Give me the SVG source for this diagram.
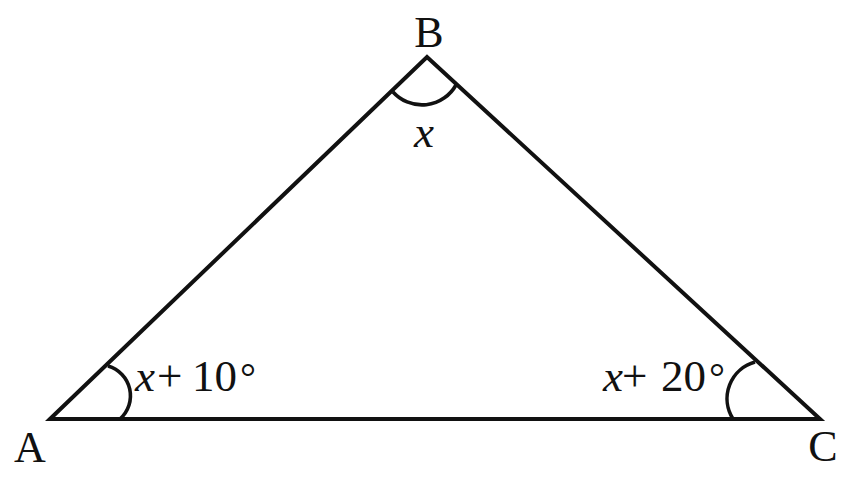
<svg xmlns="http://www.w3.org/2000/svg" width="850" height="482" viewBox="0 0 850 482">
<style>
.edge{fill:none;stroke:#111;stroke-width:4;stroke-linejoin:miter;stroke-miterlimit:10}
.arc{fill:none;stroke:#111;stroke-width:3.6}
text{fill:#111}
.lbl{font-size:44px}
.ang{font-size:45px}
.it{font-style:italic}
.deg{font-size:40px}
</style>
<rect width="850" height="482" fill="#fff"/>
<g id="connectors">
<polygon class="edge" points="50,419 427,57 820,419"/>
</g>
<g id="node-A" font-family="'Liberation Serif', 'Times New Roman', serif">
<path class="arc" d="M108,366 A31,31 0 0 1 120,419"/>
<text class="lbl" x="30" y="462" text-anchor="middle">A</text>
<text class="ang" y="391"><tspan class="it" x="135">x</tspan><tspan x="157">+ </tspan><tspan x="192">10</tspan><tspan class="deg" x="240">°</tspan></text>
</g>
<g id="node-B" font-family="'Liberation Serif', 'Times New Roman', serif">
<path class="arc" d="M393,92 A39,39 0 0 0 456,85"/>
<text class="lbl" x="429" y="47" text-anchor="middle">B</text>
<text class="ang it" x="424" y="147" text-anchor="middle">x</text>
</g>
<g id="node-C" font-family="'Liberation Serif', 'Times New Roman', serif">
<path class="arc" d="M755,362 A38,38 0 0 0 733,419"/>
<text class="lbl" x="823" y="461" text-anchor="middle">C</text>
<text class="ang" y="391"><tspan class="it" x="603">x</tspan><tspan x="622">+ </tspan><tspan x="661">20</tspan><tspan class="deg" x="709">°</tspan></text>
</g>
</svg>
